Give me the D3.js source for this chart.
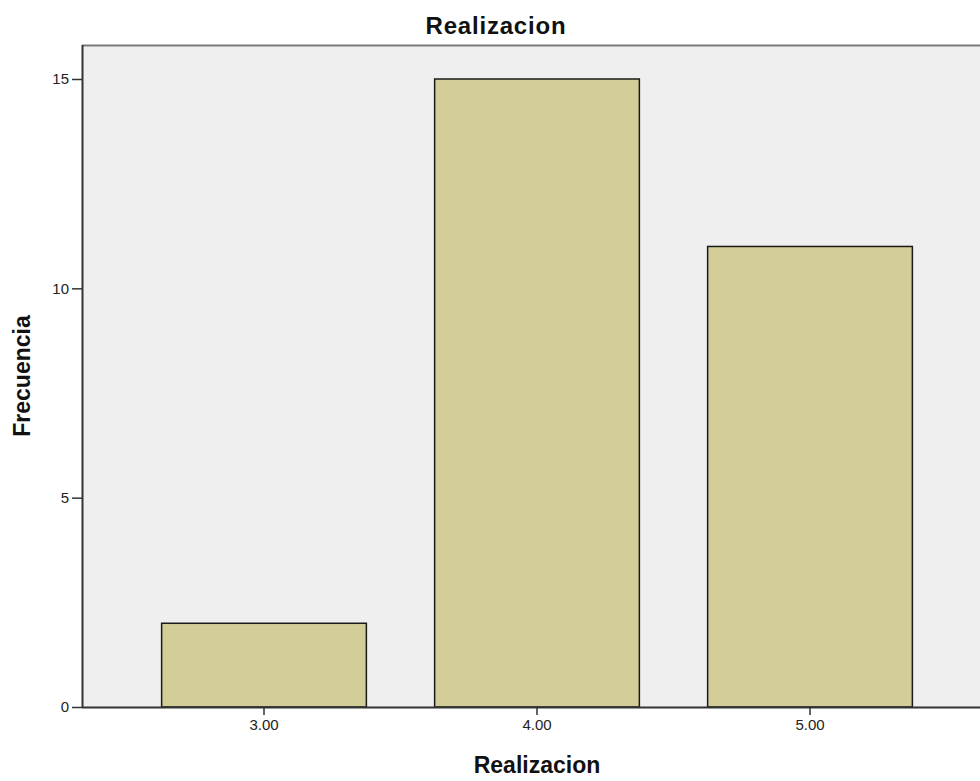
<!DOCTYPE html>
<html>
<head>
<meta charset="utf-8">
<script src="https://cdn.jsdelivr.net/npm/d3@7"></script>
<style>
  html, body { margin: 0; padding: 0; background: #fff; }
  svg { display: block; font-family: Arial, "Liberation Sans", sans-serif; }
</style>
</head>
<body>
<svg id="chart" width="980" height="781"></svg>
<script>
// Frequency of each "Realizacion" score
const categories = ["3.00", "4.00", "5.00"];
const frequencies = [2, 15, 11];
const yTicks = [0, 5, 10, 15];

const svg = d3.select("#chart");
const W = 980, H = 781;
const plot = { left: 82, top: 45, right: 990, bottom: 707 };
const font = "Arial, 'Liberation Sans', sans-serif";

const x = d3.scaleBand()
  .domain(categories)
  .range([127.5, 946.5])
  .paddingInner(0.25)
  .paddingOuter(0.125);

const y = d3.scaleLinear()
  .domain([0, 15])
  .range([plot.bottom, 79]);

// plot background
svg.append("rect")
  .attr("x", plot.left).attr("y", plot.top)
  .attr("width", plot.right - plot.left).attr("height", plot.bottom - plot.top)
  .attr("fill", "#efefef");

// top frame line
svg.append("line")
  .attr("x1", plot.left).attr("x2", W)
  .attr("y1", plot.top + 0.5).attr("y2", plot.top + 0.5)
  .attr("stroke", "#7a7a7a").attr("stroke-width", 2);

// bars
svg.append("g").selectAll("rect")
  .data(categories)
  .join("rect")
  .attr("x", d => x(d))
  .attr("y", (d, i) => y(frequencies[i]))
  .attr("width", x.bandwidth())
  .attr("height", (d, i) => y(0) - y(frequencies[i]))
  .attr("fill", "#d3cd97")
  .attr("stroke", "#1a1a1a")
  .attr("stroke-width", 1.5);

// y axis
const yAxis = svg.append("g")
  .attr("transform", `translate(${plot.left},0)`)
  .call(d3.axisLeft(y).tickValues(yTicks).tickSize(10).tickPadding(3).tickFormat(d3.format("d")));
yAxis.select(".domain")
  .attr("d", `M0.5,${plot.top}V${plot.bottom}`)
  .attr("stroke", "#333").attr("stroke-width", 2);
yAxis.selectAll(".tick line").attr("stroke", "#333").attr("stroke-width", 1.5);
yAxis.selectAll(".tick text").attr("font-size", 15).attr("fill", "#222").attr("font-family", font);

// x axis
const xAxis = svg.append("g")
  .attr("transform", `translate(0,${plot.bottom})`)
  .call(d3.axisBottom(x).tickSize(8).tickPadding(4));
xAxis.select(".domain")
  .attr("d", `M${plot.left},0.5H${W}`)
  .attr("stroke", "#333").attr("stroke-width", 2);
xAxis.selectAll(".tick line").attr("stroke", "#333").attr("stroke-width", 1.5);
xAxis.selectAll(".tick text").attr("font-size", 15).attr("fill", "#222").attr("font-family", font);

// titles
svg.append("text")
  .attr("x", 496).attr("y", 34)
  .attr("text-anchor", "middle")
  .attr("font-size", 24).attr("font-weight", "bold").attr("fill", "#111")
  .attr("letter-spacing", 0.8)
  .attr("font-family", font)
  .text("Realizacion");

svg.append("text")
  .attr("x", x("4.00") + x.bandwidth() / 2).attr("y", 773)
  .attr("text-anchor", "middle")
  .attr("font-size", 23).attr("font-weight", "bold").attr("fill", "#111")
  .attr("font-family", font)
  .text("Realizacion");

svg.append("text")
  .attr("transform", `translate(30,${(plot.top + plot.bottom) / 2}) rotate(-90)`)
  .attr("text-anchor", "middle")
  .attr("font-size", 23).attr("font-weight", "bold").attr("fill", "#111")
  .attr("font-family", font)
  .text("Frecuencia");
</script>
</body>
</html>
